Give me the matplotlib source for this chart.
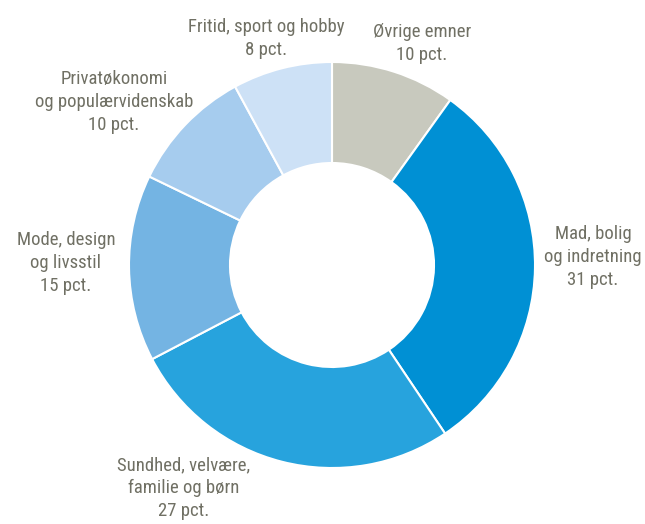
import matplotlib
matplotlib.use("Agg")
import matplotlib.pyplot as plt
from matplotlib import font_manager

categories = ["Øvrige emner", "Mad, bolig\nog indretning", "Sundhed, velvære,\nfamilie og børn",
              "Mode, design\nog livsstil", "Privatøkonomi\nog populærvidenskab", "Fritid, sport og hobby"]
values = [10, 31, 27, 15, 10, 8]
colors = ["#C8C9BE", "#0090D4", "#27A3DD", "#74B4E3", "#A6CCEE", "#CDE1F6"]
label_pos = [(422, 43.5), (593, 257), (184, 488), (66, 263), (114, 102), (266, 38.5)]

names = {f.name for f in font_manager.fontManager.ttflist}
fam, fsize = "Liberation Sans", 12.0
for cand in ["Liberation Sans Narrow", "Arial Narrow", "Roboto Condensed", "Open Sans Condensed"]:
    if cand in names:
        fam, fsize = cand, 13.5
        break

W, H = 645, 524
fig = plt.figure(figsize=(W / 100, H / 100), dpi=100)
ax = fig.add_axes([0, 0, 1, 1])

ax.pie(values, colors=colors, startangle=90, counterclock=False,
       center=(332, H - 265), radius=203, frame=True,
       wedgeprops=dict(width=101, edgecolor="white", linewidth=1.5))
ax.set_xlim(0, W)
ax.set_ylim(0, H)
ax.set_aspect("equal")
ax.axis("off")

for cat, v, (x, y) in zip(categories, values, label_pos):
    ax.text(x, H - y, f"{cat}\n{v} pct.", ha="center", va="center", fontsize=fsize,
            family=fam, color="#707064", linespacing=1.35)

fig.savefig("out.png", dpi=100)
